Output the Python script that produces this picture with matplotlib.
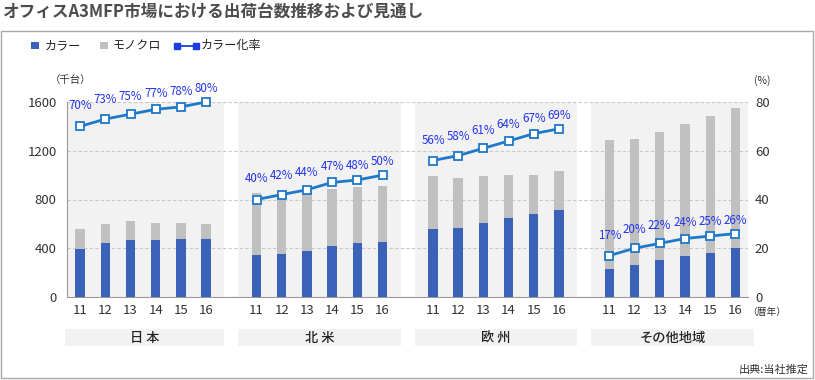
import matplotlib
matplotlib.use("Agg")
import matplotlib.pyplot as plt
from matplotlib.patches import Rectangle
from matplotlib.lines import Line2D
import matplotlib.transforms as mtransforms

plt.rcParams['font.family'] = ['Noto Sans CJK JP', 'DejaVu Sans']

# ---- data ----
regions = ["日 本", "北 米", "欧 州", "その他地域"]
years = ["11", "12", "13", "14", "15", "16"]
color_units = [
    [390, 440, 470, 470, 475, 480],
    [345, 355, 380, 415, 440, 455],
    [555, 565, 605, 645, 680, 715],
    [230, 265, 305, 340, 365, 405],
]
mono_units = [
    [165, 160, 155, 135, 130, 115],
    [505, 490, 475, 470, 465, 455],
    [440, 410, 390, 360, 325, 315],
    [1060, 1035, 1045, 1080, 1120, 1145],
]
color_rate = [
    [70, 73, 75, 77, 78, 80],
    [40, 42, 44, 47, 48, 50],
    [56, 58, 61, 64, 67, 69],
    [17, 20, 22, 24, 25, 26],
]
left_ticks = [0, 400, 800, 1200, 1600]
right_ticks = [0, 20, 40, 60, 80]

# ---- style ----
W, H = 815, 380
BLUE = "#3a62b8"
GRAY = "#c0c0c0"
BG = "#f2f2f2"
LINE = "#1f78c8"
LBL = "#2233ee"
TXT = "#333333"

fig = plt.figure(figsize=(W / 100, H / 100), dpi=100)

def fx(x):
    return x / W

def fy(y):
    return 1 - y / H

ax = fig.add_axes([fx(67), fy(297), (748 - 67) / W, (297 - 102) / H])
ax2 = ax.twinx()

STEP = 7
XMIN, XMAX = -0.52, 26.5
bw = 0.37

xs_all, lbl_all = [], []
for g in range(len(regions)):
    xs = [g * STEP + i for i in range(len(years))]
    xs_all += xs
    lbl_all += years
    # background span
    s0 = max(g * STEP - 1 + 0.28, XMIN)
    s1 = min(g * STEP + 6 - 0.28, XMAX)
    ax.axvspan(s0, s1, color=BG, zorder=0, lw=0)
    ax.bar(xs, color_units[g], width=bw, color=BLUE, zorder=3, lw=0)
    ax.bar(xs, mono_units[g], width=bw, bottom=color_units[g], color=GRAY,
           zorder=3, lw=0)
    ax2.plot(xs, color_rate[g], color=LINE, lw=2, marker='s', ms=5.5,
             mfc='white', mec=LINE, mew=1.3, zorder=5, clip_on=False)
    for i, (x, v) in enumerate(zip(xs, color_rate[g])):
        ax2.annotate(f"{v}%", (x, v), xytext=(0, 14 - 1.4 * i),
                     textcoords='offset pixels', ha='center', va='bottom',
                     fontsize=8.3, color=LBL, zorder=6, annotation_clip=False)
    # region label box (data x, figure y)
    trans = mtransforms.blended_transform_factory(ax.transData, fig.transFigure)
    b0 = g * STEP - 1 + 0.28
    b1 = g * STEP + 6 - 0.28
    if g == 0:
        b0 = -0.6
    ax.add_patch(Rectangle((b0, fy(346)), b1 - b0, (346 - 329) / H,
                           transform=trans, color=BG, lw=0, clip_on=False))
    ax.text((b0 + b1) / 2, fy(338), regions[g], transform=trans, ha='center',
            va='center', fontsize=9.5, color='#222222', fontweight='medium')

ax.set_xlim(XMIN, XMAX)
ax.set_ylim(0, 1600)
ax2.set_ylim(0, 80)
ax.set_xticks(xs_all)
ax.set_xticklabels(lbl_all)
ax.set_yticks(left_ticks)
ax2.set_yticks(right_ticks)
ax.yaxis.grid(True, ls=(0, (3, 2)), color='#c8c8c8', lw=0.8, zorder=1)
ax.set_axisbelow(True)
ax.tick_params(axis='both', length=0, labelsize=9.5, colors=TXT)
ax.tick_params(axis='x', pad=5)
ax.tick_params(axis='y', pad=7.5)
ax2.tick_params(axis='y', length=0, labelsize=9.5, colors=TXT, pad=5)
for a in (ax, ax2):
    for s in ['top', 'right']:
        a.spines[s].set_visible(False)
ax2.spines['left'].set_visible(False)
ax2.spines['bottom'].set_visible(False)
ax.spines['left'].set_color('#999999')
ax.spines['bottom'].set_color('#999999')
ax.patch.set_alpha(0)

# ---- figure texts ----
fig.text(fx(3), fy(12), "オフィスA3MFP市場における出荷台数推移および見通し",
         fontsize=12, fontweight='bold', color='#4d4d4d', ha='left', va='center')
fig.patches.append(Rectangle((fx(1), fy(378)), fx(812), (378 - 31) / H,
                             transform=fig.transFigure, fill=False,
                             ec='#aaaaaa', lw=1))
# legend
fig.patches.append(Rectangle((fx(31), fy(49)), fx(8), 7 / H,
                             transform=fig.transFigure, color=BLUE, lw=0))
fig.text(fx(45), fy(45.5), "カラー", fontsize=8.7, color='#222222', va='center')
fig.patches.append(Rectangle((fx(100), fy(49)), fx(8), 7 / H,
                             transform=fig.transFigure, color=GRAY, lw=0))
fig.text(fx(113), fy(45.5), "モノクロ", fontsize=8.7, color='#222222', va='center')
fig.lines.append(Line2D([fx(177), fx(196)], [fy(45.5), fy(45.5)],
                        transform=fig.transFigure, color='#1a3ce0', lw=1.3,
                        marker='s', ms=5, mfc='#1a3ce0', mec='#1a3ce0'))
fig.text(fx(201), fy(45.5), "カラー化率", fontsize=8.7, color='#222222', va='center')

fig.text(fx(50), fy(80), "（千台）", fontsize=7.5, color=TXT, va='center', ha='left')
fig.text(fx(754), fy(81), "(%)", fontsize=7.5, color=TXT, va='center', ha='left')
fig.text(fx(747), fy(312), "（暦年）", fontsize=7, color=TXT, va='center', ha='left')
fig.text(fx(809), fy(370), "出典:当社推定", fontsize=8, color=TXT, va='center', ha='right')

fig.savefig("out.png", dpi=100)
